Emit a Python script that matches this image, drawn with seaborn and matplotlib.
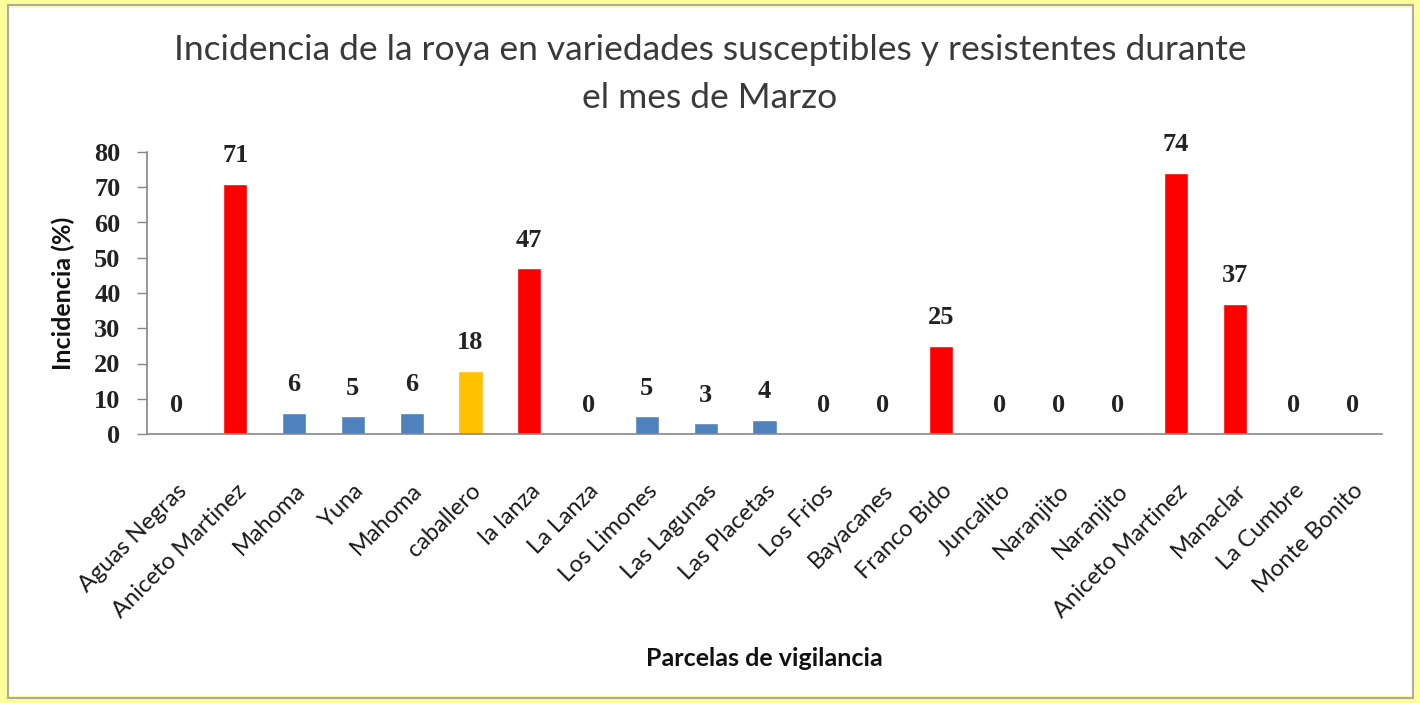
import matplotlib
matplotlib.use("Agg")
import matplotlib.pyplot as plt
import seaborn as sns
import pandas as pd
from matplotlib.patches import Rectangle

categories = ["Aguas Negras", "Aniceto Martinez", "Mahoma", "Yuna", "Mahoma",
              "caballero", "la lanza", "La Lanza", "Los Limones", "Las Lagunas",
              "Las Placetas", "Los Frios", "Bayacanes", "Franco Bido", "Juncalito",
              "Naranjito", "Naranjito", "Aniceto Martinez", "Manaclar", "La Cumbre",
              "Monte Bonito"]
values = [0, 71, 6, 5, 6, 18, 47, 0, 5, 3, 4, 0, 0, 25, 0, 0, 0, 74, 37, 0, 0]
groups = ["b", "r", "b", "b", "b", "y", "r", "b", "b", "b", "b", "b", "b", "r",
          "b", "b", "b", "r", "r", "b", "b"]
palette = {"r": "#FF0000", "b": "#4F81BD", "y": "#FFC000"}
yticks = [0, 10, 20, 30, 40, 50, 60, 70, 80]
title = "Incidencia de la roya en variedades susceptibles y resistentes durante\nel mes de Marzo"
ylabel = "Incidencia (%)"
xlabel = "Parcelas de vigilancia"

sns.set_theme(style="white")
plt.rcParams["font.family"] = ["Lato", "DejaVu Sans"]

df = pd.DataFrame({"pos": [f"c{i}" for i in range(len(categories))],
                   "val": values, "grp": groups})

fig = plt.figure(figsize=(14.2, 7.03), dpi=100)
fig.patch.set_facecolor("white")
ax = fig.add_axes([147/1420, 1-434/703, (1382-147)/1420, (434-152)/703])

sns.barplot(data=df, x="pos", y="val", hue="grp", palette=palette,
            dodge=False, width=0.41, legend=False, ax=ax, saturation=1)

ax.set_ylim(0, 80)
ax.set_xlim(-0.5, len(categories) - 0.5)
ax.set_yticks(yticks)
ax.set_yticklabels([str(t) for t in yticks], family="Liberation Serif",
                   fontweight="bold", fontsize=19, color="#222222")
ax.set_xticks(range(len(categories)))
ax.set_xticklabels(categories, rotation=45, ha="right", rotation_mode="anchor",
                   fontsize=17, color="#1a1a1a")
ax.tick_params(axis="y", length=7, width=1, color="#868686", left=True, pad=12)
ax.tick_params(axis="x", length=0, pad=33)
for s in ["top", "right"]:
    ax.spines[s].set_visible(False)
for s in ["left", "bottom"]:
    ax.spines[s].set_color("#868686")
    ax.spines[s].set_linewidth(1.2)

for i, v in enumerate(values):
    ax.annotate(str(v), (i, v), xytext=(0, 12), textcoords="offset points",
                ha="center", va="bottom", family="Liberation Serif",
                fontweight="bold", fontsize=19, color="#222222")

ax.set_ylabel(ylabel, fontsize=18, fontweight="bold", color="#111111", labelpad=14)
ax.set_xlabel("")
fig.text(764/1420, 1-658/703, xlabel, ha="center", va="center",
         fontsize=18, fontweight="bold", color="#111111")
fig.text(710/1420, 1-74/703, title, ha="center", va="center",
         fontsize=25.5, color="#3a3a3a", linespacing=1.6)

# frame
fig.patches.append(Rectangle((0, 0), 1, 1, transform=fig.transFigure,
                             fill=False, edgecolor="#FFFF99", linewidth=10, zorder=10))
fig.patches.append(Rectangle((8/1420, 5/703), 1-15/1420, 1-10/703, transform=fig.transFigure,
                             fill=False, edgecolor="#AAAAAA", linewidth=1.5, zorder=10))

fig.savefig("out.png", dpi=100)
